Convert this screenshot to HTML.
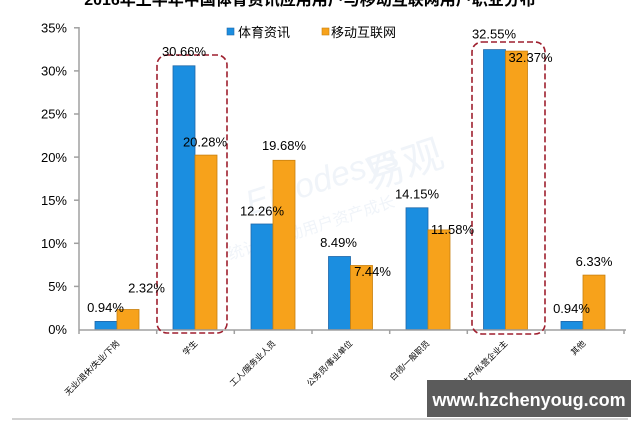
<!DOCTYPE html>
<html>
<head>
<meta charset="utf-8">
<style>
html,body{margin:0;padding:0;background:#fff;}
svg{display:block;}
text{font-family:"Liberation Sans","Noto Sans CJK SC",sans-serif;}
</style>
</head>
<body>
<svg width="640" height="427" viewBox="0 0 640 427" xmlns="http://www.w3.org/2000/svg">
  <rect x="0" y="0" width="640" height="427" fill="#ffffff"/>

  <!-- faint watermark -->
  <g fill="#edf2f8" opacity="0.8">
    <text x="250" y="215" font-size="34" font-style="italic" transform="rotate(-18 250 215)">Enfodesys</text>
    <text x="370" y="190" font-size="40" font-family="Noto Sans CJK SC, sans-serif" transform="rotate(-18 370 190)">易观</text>
    <text x="230" y="260" font-size="16" font-family="Noto Sans CJK SC, sans-serif" transform="rotate(-18 230 260)">统计 · 驱动用户资产成长</text>
  </g>

  <!-- title (cut off at top) -->
  <text x="310" y="5" font-size="16" font-weight="bold" text-anchor="middle" fill="#000">2016年上半年中国体育资讯应用用户与移动互联网用户职业分布</text>

  <!-- legend -->
  <rect x="227" y="28" width="7" height="7" fill="#1b8ee0" stroke="#2067a8" stroke-width="0.6"/>
  <text x="238" y="37" font-size="13" fill="#000">体育资讯</text>
  <rect x="322" y="28" width="7" height="7" fill="#f7a21b" stroke="#c8800f" stroke-width="0.6"/>
  <text x="331" y="37" font-size="13" fill="#000">移动互联网</text>

  <!-- y axis -->
  <g stroke="#a0a0a0" stroke-width="1.5">
    <line x1="79" y1="27" x2="79" y2="330"/>
    <line x1="74" y1="27.8" x2="79" y2="27.8"/>
    <line x1="74" y1="70.9" x2="79" y2="70.9"/>
    <line x1="74" y1="114" x2="79" y2="114"/>
    <line x1="74" y1="157.1" x2="79" y2="157.1"/>
    <line x1="74" y1="200.2" x2="79" y2="200.2"/>
    <line x1="74" y1="243.3" x2="79" y2="243.3"/>
    <line x1="74" y1="286.4" x2="79" y2="286.4"/>
  </g>
  <g font-size="13" fill="#000" text-anchor="end">
    <text x="67" y="32.5">35%</text>
    <text x="67" y="75.6">30%</text>
    <text x="67" y="118.7">25%</text>
    <text x="67" y="161.8">20%</text>
    <text x="67" y="204.9">15%</text>
    <text x="67" y="248">10%</text>
    <text x="67" y="291.1">5%</text>
    <text x="67" y="334.2">0%</text>
  </g>

  <!-- bars -->
  <g stroke-width="0.8">
    <rect x="95" y="321.4" width="22" height="8.1" fill="#1b8ee0" stroke="#2067a8"/>
    <rect x="117" y="309.5" width="22" height="20" fill="#f7a21b" stroke="#c8800f"/>
    <rect x="173" y="65.8" width="22" height="263.7" fill="#1b8ee0" stroke="#2067a8"/>
    <rect x="195" y="155.1" width="22" height="174.4" fill="#f7a21b" stroke="#c8800f"/>
    <rect x="251" y="224" width="22" height="105.5" fill="#1b8ee0" stroke="#2067a8"/>
    <rect x="273" y="160.3" width="22" height="169.2" fill="#f7a21b" stroke="#c8800f"/>
    <rect x="328.5" y="256.5" width="22" height="73" fill="#1b8ee0" stroke="#2067a8"/>
    <rect x="350.5" y="265.5" width="22" height="64" fill="#f7a21b" stroke="#c8800f"/>
    <rect x="406" y="207.8" width="22" height="121.7" fill="#1b8ee0" stroke="#2067a8"/>
    <rect x="428" y="229.9" width="22" height="99.6" fill="#f7a21b" stroke="#c8800f"/>
    <rect x="483.5" y="49.6" width="22" height="279.9" fill="#1b8ee0" stroke="#2067a8"/>
    <rect x="505.5" y="51.1" width="22" height="278.4" fill="#f7a21b" stroke="#c8800f"/>
    <rect x="561" y="321.4" width="22" height="8.1" fill="#1b8ee0" stroke="#2067a8"/>
    <rect x="583" y="275.1" width="22" height="54.4" fill="#f7a21b" stroke="#c8800f"/>
  </g>

  <!-- x axis -->
  <g stroke="#a0a0a0" stroke-width="1.5">
    <line x1="79" y1="330" x2="626" y2="330"/>
    <line x1="79" y1="330" x2="79" y2="334"/>
    <line x1="156.7" y1="330" x2="156.7" y2="334"/>
    <line x1="234.3" y1="330" x2="234.3" y2="334"/>
    <line x1="312" y1="330" x2="312" y2="334"/>
    <line x1="389.7" y1="330" x2="389.7" y2="334"/>
    <line x1="467.3" y1="330" x2="467.3" y2="334"/>
    <line x1="545" y1="330" x2="545" y2="334"/>
    <line x1="624" y1="330" x2="624" y2="334"/>
  </g>

  <!-- dashed highlight boxes -->
  <g fill="none" stroke="#9e1f2e" stroke-width="1.6" stroke-dasharray="6,3">
    <rect x="157" y="55" width="70" height="278" rx="10" ry="10"/>
    <rect x="472" y="42" width="73" height="292" rx="10" ry="10"/>
  </g>

  <!-- data labels -->
  <g font-size="13" fill="#000" text-anchor="middle">
    <text x="105.5" y="312">0.94%</text>
    <text x="146.5" y="292.5">2.32%</text>
    <text x="184" y="56">30.66%</text>
    <text x="205" y="146.5">20.28%</text>
    <text x="262" y="215.5">12.26%</text>
    <text x="284" y="150">19.68%</text>
    <text x="338.5" y="247">8.49%</text>
    <text x="372.5" y="276">7.44%</text>
    <text x="417" y="198.5">14.15%</text>
    <text x="452.5" y="234">11.58%</text>
    <text x="494" y="38.5">32.55%</text>
    <text x="530.5" y="62">32.37%</text>
    <text x="571.5" y="313">0.94%</text>
    <text x="594" y="266">6.33%</text>
  </g>

  <!-- category labels -->
  <g font-size="8.3" fill="#000" text-anchor="end">
    <text x="120" y="344" transform="rotate(-45 120 344)">无业/退休/失业/下岗</text>
    <text x="198" y="344" transform="rotate(-45 198 344)">学生</text>
    <text x="276" y="344" transform="rotate(-45 276 344)">工人/服务业人员</text>
    <text x="353" y="344" transform="rotate(-45 353 344)">公务员/事业单位</text>
    <text x="430" y="344" transform="rotate(-45 430 344)">白领/一般职员</text>
    <text x="508" y="344" transform="rotate(-45 508 344)">管理者/个体户/私营企业主</text>
    <text x="586" y="344" transform="rotate(-45 586 344)">其他</text>
  </g>

  <!-- bottom rule -->
  <line x1="12" y1="419" x2="628" y2="419" stroke="#c4c4c4" stroke-width="1.5"/>

  <!-- site watermark -->
  <rect x="427" y="380" width="204" height="37" fill="#5b5b5b"/>
  <text x="529" y="406" font-size="18" font-weight="bold" fill="#ffffff" text-anchor="middle">www.hzchenyoug.com</text>
</svg>
</body>
</html>
